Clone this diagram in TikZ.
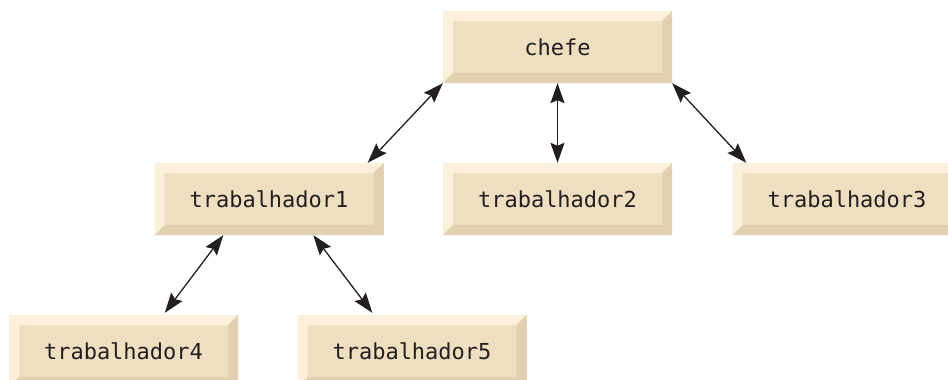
\documentclass[tikz,border=0pt]{standalone}
\usepackage{fontspec}
\setmonofont{DejaVu Sans Mono}
\usepackage{tikz}
\usetikzlibrary{arrows.meta,positioning,calc}
\usepackage{xcolor}

\definecolor{boxface}{HTML}{EDDFC0}
\definecolor{boxlight}{HTML}{FDF0DB}
\definecolor{boxdark}{HTML}{E1D1AE}
\definecolor{boxtext}{HTML}{231F20}
\definecolor{arrowcol}{HTML}{231F20}

\tikzset{
    bevel/.style={
        minimum width=229pt, minimum height=72pt, inner sep=0pt,
        fill=boxface, text=boxtext,
        font=\ttfamily\fontsize{22}{26}\selectfont,
        path picture={
            \fill[boxlight] (path picture bounding box.north west)
                -- (path picture bounding box.north east)
                -- ([xshift=-10pt,yshift=-10pt]path picture bounding box.north east)
                -- ([xshift=10pt,yshift=-10pt]path picture bounding box.north west)
                -- ([xshift=10pt,yshift=10pt]path picture bounding box.south west)
                -- (path picture bounding box.south west) -- cycle;
            \fill[boxdark] (path picture bounding box.south east)
                -- (path picture bounding box.south west)
                -- ([xshift=10pt,yshift=10pt]path picture bounding box.south west)
                -- ([xshift=-10pt,yshift=10pt]path picture bounding box.south east)
                -- ([xshift=-10pt,yshift=-10pt]path picture bounding box.north east)
                -- (path picture bounding box.north east) -- cycle;
        }
    }
}

\begin{document}
\begin{tikzpicture}[
    x=1pt, y=-1pt,
    link/.style={draw=arrowcol, line width=1.3pt,
        {Stealth[length=20pt,width=14pt,inset=3pt]}-{Stealth[length=20pt,width=14pt,inset=3pt]}}
]
    \useasboundingbox (0,0) rectangle (948,380);
    \clip (0,0) rectangle (948,380);

    % boss and workers
    \node[bevel] (chefe) at (557.5,47) {chefe};
    \node[bevel] (trab1) at (269,199) {trabalhador1};
    \node[bevel] (trab2) at (557.5,199) {trabalhador2};
    \node[bevel] (trab3) at (847,199) {trabalhador3};
    \node[bevel] (trab4) at (123.5,351) {trabalhador4};
    \node[bevel] (trab5) at (412,351) {trabalhador5};

    % links
    \draw[link] (chefe.south west) -- ([xshift=-16pt]trab1.north east);
    \draw[link] (chefe) -- (trab2);
    \draw[link] (chefe.south east) -- ([xshift=14pt]trab3.north west);
    \draw[link] ([xshift=69pt]trab1.south west) -- ([xshift=156pt,yshift=2pt]trab4.north west);
    \draw[link] ([xshift=159pt]trab1.south west) -- ([xshift=75pt,yshift=2pt]trab5.north west);
\end{tikzpicture}
\end{document}
